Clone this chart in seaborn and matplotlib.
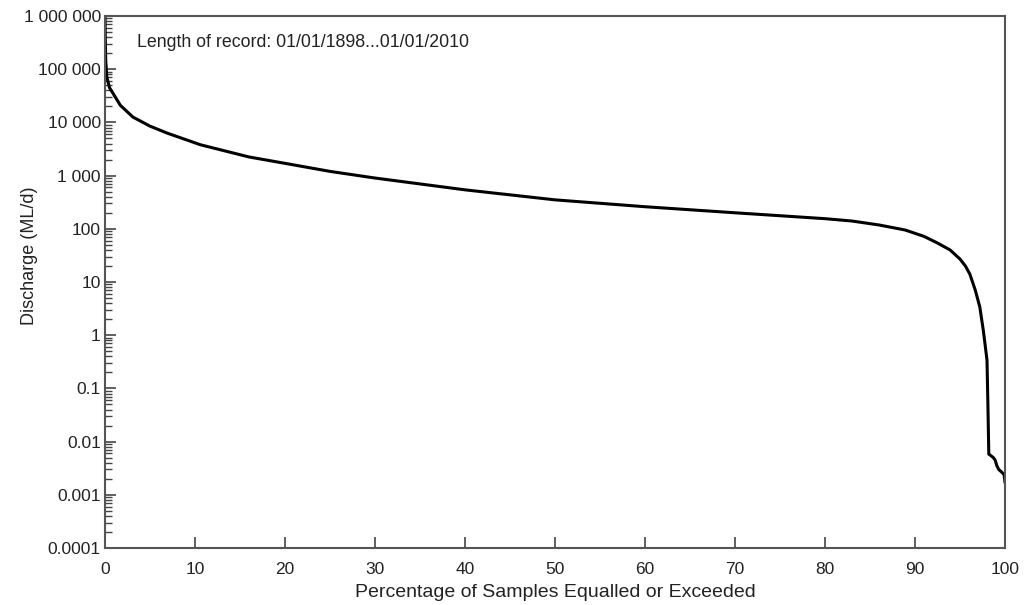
import pandas as pd
import matplotlib
matplotlib.use("Agg")
import matplotlib.pyplot as plt
import matplotlib.ticker as mticker
import seaborn as sns

# Flow duration curve
percent_exceeded = [0, 0.03, 0.08, 0.2, 0.5, 0.9, 1.7, 3.1, 5.0, 6.9, 10.6, 16, 20, 25, 30,
                    40, 50, 60, 70, 80, 83, 86, 88.9, 91, 92.5, 93.9, 95.0, 95.6, 96.1,
                    96.7, 97.2, 97.6, 98.0, 98.1, 98.2, 98.4, 98.7, 98.9, 99.1,
                    99.3, 99.6, 99.9, 100]
discharge = [1000000, 400000, 150000, 71000, 45000, 35000, 21000, 12600, 8500, 6300, 3800,
             2240, 1700, 1200, 900, 540, 350, 260, 200, 155, 140, 118, 95, 72, 54, 40,
             27, 20, 14, 7, 3.4, 1.2, 0.34, 0.05, 0.0058, 0.0055, 0.005,
             0.0045, 0.0035, 0.003, 0.0027, 0.0024, 0.0017]

y_ticks = [1e-4, 1e-3, 1e-2, 1e-1, 1, 10, 100, 1000, 10000, 100000, 1000000]
y_labels = ["0.0001", "0.001", "0.01", "0.1", "1", "10", "100", "1 000", "10 000",
            "100 000", "1 000 000"]
x_ticks = [0, 10, 20, 30, 40, 50, 60, 70, 80, 90, 100]

df = pd.DataFrame({"pct": percent_exceeded, "q": discharge})

sns.set_style("ticks")
plt.rcParams["font.family"] = ["Liberation Sans", "DejaVu Sans"]

fig = plt.figure(figsize=(10.36, 6.05), dpi=100)
ax = fig.add_axes([105 / 1036, 1 - 548 / 605, 900 / 1036, 532 / 605])

sns.lineplot(data=df, x="pct", y="q", color="black", linewidth=2.2, ax=ax)

ax.set_yscale("log")
ax.set_xlim(0, 100)
ax.set_ylim(1e-4, 1e6)
ax.yaxis.set_major_locator(mticker.FixedLocator(y_ticks))
ax.yaxis.set_major_formatter(mticker.FixedFormatter(y_labels))
ax.yaxis.set_minor_locator(mticker.LogLocator(base=10, subs=range(2, 10), numticks=20))
ax.yaxis.set_minor_formatter(mticker.NullFormatter())
ax.set_xticks(x_ticks)
ax.set_xticklabels([str(v) for v in x_ticks])

ax.tick_params(axis="both", which="major", direction="in", length=8, width=1.2,
               color="#444444", labelsize=12.5, labelcolor="#222222")
ax.tick_params(axis="y", which="major", pad=3)
ax.tick_params(axis="x", which="major", pad=10)
ax.tick_params(axis="y", which="minor", direction="in", length=5, width=1,
               color="#444444")
for sp in ax.spines.values():
    sp.set_color("#555555")
    sp.set_linewidth(1.5)

ax.set_xlabel("Percentage of Samples Equalled or Exceeded", fontsize=14, color="#222222",
              labelpad=5)
ax.set_ylabel("")
fig.text(30 / 1036, 1 - 256 / 605, "Discharge (ML/d)", rotation=90, fontsize=13,
         color="#222222", ha="center", va="center")

ax.text(0.036, 0.951, "Length of record: 01/01/1898...01/01/2010", transform=ax.transAxes,
        fontsize=12.8, color="#222222", va="center", ha="left")

fig.savefig("out.png", dpi=100)
